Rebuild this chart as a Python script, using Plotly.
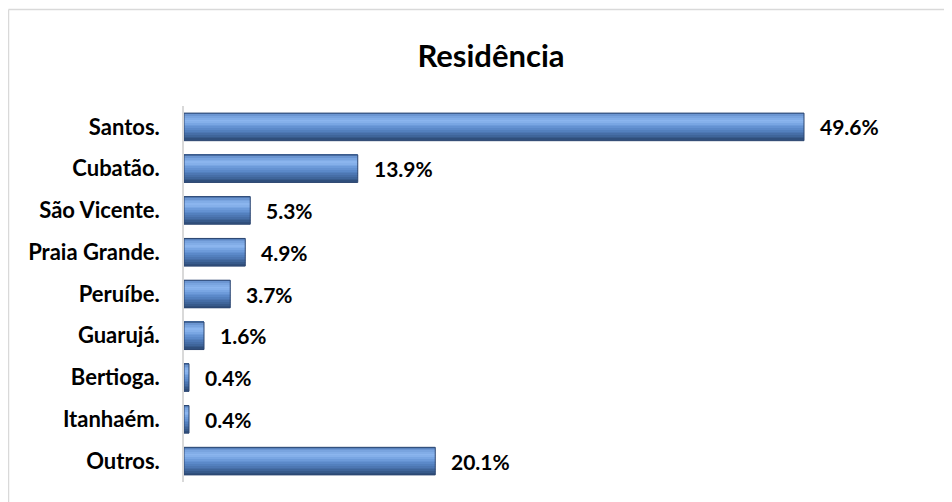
import plotly.graph_objects as go

categories = ["Santos.", "Cubatão.", "São Vicente.", "Praia Grande.", "Peruíbe.",
              "Guarujá.", "Bertioga.", "Itanhaém.", "Outros."]
values = [49.6, 13.9, 5.3, 4.9, 3.7, 1.6, 0.4, 0.4, 20.1]
labels = [f"{v:.1f}%" for v in values]
title_text = "Residência"

# page has an 8px body margin; figure drawn at (8,8)
OFF = 8
W, H = 944, 494
ML, MR, MT, MB = 176, 68, 98, 20
PW, PH = W - ML - MR, H - MT - MB
XMAX = PW / 12.5

FONT = "Lato"

# vertical gradient profile of the bar (top -> bottom)
stops = [(0.0, (0x4E, 0x78, 0xB2)), (0.12, (0x74, 0x9F, 0xDB)), (0.3, (0x8E, 0xB8, 0xF0)),
         (0.45, (0x70, 0x9E, 0xDD)), (0.62, (0x57, 0x85, 0xC5)), (0.82, (0x42, 0x69, 0xA0)),
         (1.0, (0x2C, 0x49, 0x75))]

def grad(t):
    for (t0, c0), (t1, c1) in zip(stops[:-1], stops[1:]):
        if t0 <= t <= t1:
            f = (t - t0) / (t1 - t0) if t1 > t0 else 0
            c = [round(a + (b - a) * f) for a, b in zip(c0, c1)]
            return "rgb({},{},{})".format(*c)
    return "rgb(44,73,117)"

BW = 0.66
N = 16
sw = BW / N

fig = go.Figure()
for i in range(N):
    t = (i + 0.5) / N
    fig.add_trace(go.Bar(x=values, y=categories, orientation="h",
                         width=sw * 1.08, offset=-BW / 2 + i * sw,
                         marker=dict(color=grad(t), line=dict(width=0)),
                         hoverinfo="skip", showlegend=False))
# outline
fig.add_trace(go.Bar(x=values, y=categories, orientation="h", width=BW, offset=-BW / 2,
                     marker=dict(color="rgba(0,0,0,0)", line=dict(color="#2C4670", width=1)),
                     hoverinfo="skip", showlegend=False))

annotations = []
for c, v, t in zip(categories, values, labels):
    annotations.append(dict(x=v, y=c, xref="x", yref="y", text=f"<b>{t}</b>",
                            showarrow=False, xanchor="left", xshift=14,
                            font=dict(family=FONT, size=21, color="#000000")))

def px_to_paper_x(px):
    return (px - OFF - ML) / PW

def px_to_paper_y(py):
    return (H - MB - (py - OFF)) / PH

shapes = [
    dict(type="line", xref="paper", yref="paper",
         x0=px_to_paper_x(8.5), x1=px_to_paper_x(960), y0=px_to_paper_y(9.5), y1=px_to_paper_y(9.5),
         line=dict(color="#D9D9D9", width=1.5)),
    dict(type="line", xref="paper", yref="paper",
         x0=px_to_paper_x(8.5), x1=px_to_paper_x(8.5), y0=px_to_paper_y(9.5), y1=px_to_paper_y(510),
         line=dict(color="#D9D9D9", width=1.5)),
]

fig.update_layout(
    width=W, height=H,
    margin=dict(l=ML, r=MR, t=MT, b=MB),
    barmode="overlay",
    plot_bgcolor="white", paper_bgcolor="white",
    title=dict(text=f"<b>{title_text}</b>", x=(491 - OFF) / W, xanchor="center",
               y=1 - (56 - OFF) / H, yanchor="middle",
               font=dict(family=FONT, size=31, color="#000000")),
    xaxis=dict(range=[0, XMAX], visible=False, fixedrange=True),
    yaxis=dict(autorange="reversed", showline=True, linecolor="#D9D9D9", linewidth=1.5,
               showgrid=False, ticks="", ticklabelstandoff=18,
               tickfont=dict(family=FONT, size=22, color="#000000"),
               tickmode="array", tickvals=categories,
               ticktext=[f"<b>{c}</b>" for c in categories]),
    annotations=annotations,
    shapes=shapes,
)

fig.write_html("out.html")
